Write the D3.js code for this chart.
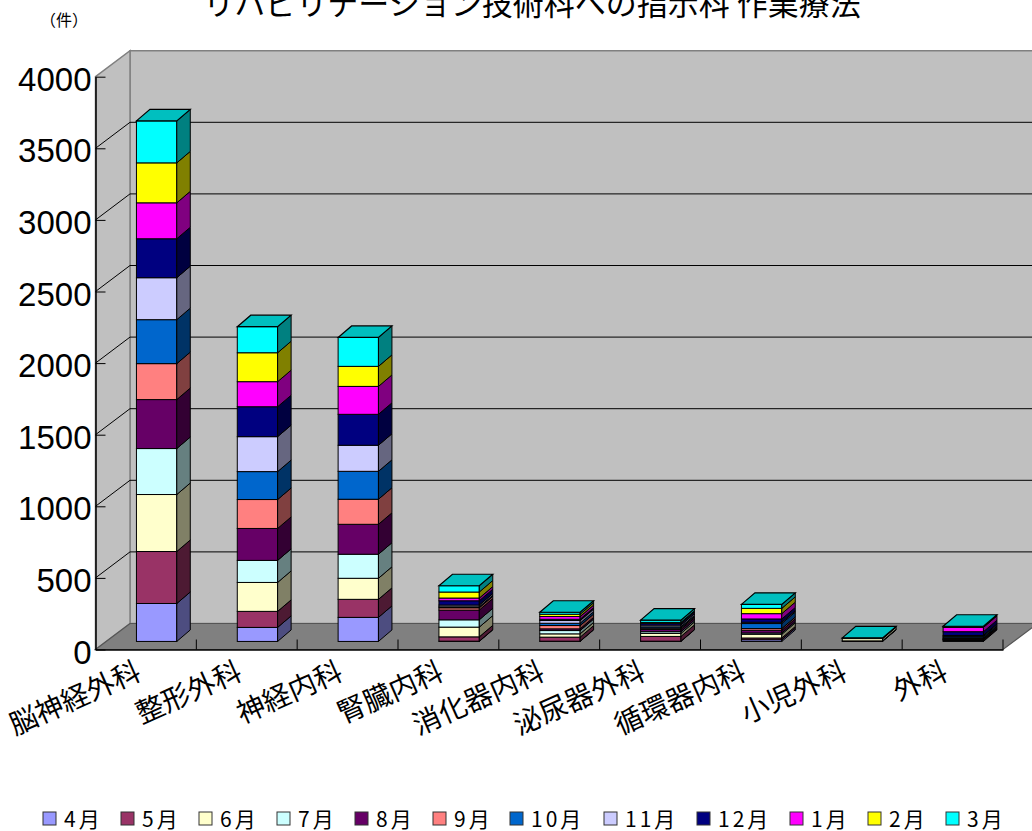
<!DOCTYPE html>
<html>
<head>
<meta charset="utf-8">
<script src="https://cdn.jsdelivr.net/npm/d3@7"></script>
<style>
  html, body { margin: 0; padding: 0; background: #fff; overflow: hidden; }
  svg { display: block; }
  .jp { font-family: "Noto Sans CJK JP", sans-serif; fill: #000; }
</style>
</head>
<body>
<div id="chart"></div>
<script>
const categories = ["脳神経外科", "整形外科", "神経内科", "腎臓内科", "消化器内科", "泌尿器外科", "循環器内科", "小児外科", "外科"];
const months = ["4月", "5月", "6月", "7月", "8月", "9月", "10月", "11月", "12月", "1月", "2月", "3月"];
const colors = ["#9999FF", "#993366", "#FFFFCC", "#CCFFFF", "#660066", "#FF8080", "#0066CC", "#CCCCFF", "#000080", "#FF00FF", "#FFFF00", "#00FFFF"];
const yTicks = [0, 500, 1000, 1500, 2000, 2500, 3000, 3500, 4000];

// values per department, one number for each month (Apr - Mar)
const neurosurgery = [265, 363, 398, 321, 342, 251, 307, 293, 272, 251, 279, 293];
const orthopedics = [98, 112, 202, 154, 223, 202, 195, 244, 209, 175, 202, 182];
const neurology = [168, 126, 147, 168, 209, 175, 195, 182, 216, 195, 140, 202];
const nephrology = [2, 30, 68, 51, 68, 16, 7, 12, 30, 19, 42, 44];
const digestive = [2, 28, 23, 23, 12, 23, 16, 19, 9, 19, 16, 14];
const urology = [2, 33, 21, 12, 16, 9, 9, 12, 12, 2, 5, 16];
const cardiology = [12, 12, 26, 9, 19, 12, 35, 9, 23, 37, 37, 28];
const pediatricSurgery = [2, 2, 16, 2, 0, 0, 0, 0, 0, 0, 0, 3];
const surgery = [5, 7, 2, 2, 5, 5, 9, 7, 26, 30, 4, 4];
const values = [neurosurgery, orthopedics, neurology, nephrology, digestive, urology, cardiology, pediatricSurgery, surgery];

const width = 1032, height = 831;
const plotLeft = 95.5, plotRight = 1003, plotBottom = 649.5, plotTop = 76.7;
const depthX = 34.5, depthY = 26;   // offset of back wall from the front plane
const barFront = 0.31;              // where the bars start in the depth
const sideDx = 13.5, sideDy = 11.5; // depth of a bar

const svg = d3.select("#chart").append("svg")
  .attr("width", width)
  .attr("height", height);

const x = d3.scaleBand().domain(categories).range([plotLeft, plotRight]);
const y = d3.scaleLinear().domain([0, 4000]).range([plotBottom, plotTop]);
const color = d3.scaleOrdinal().domain(months).range(colors);
const line = d3.line();

// walls and floor
svg.append("path")
  .attr("d", line([[plotLeft + depthX, plotTop - depthY], [width + 10, plotTop - depthY], [width + 10, plotBottom - depthY], [plotLeft + depthX, plotBottom - depthY]]) + "Z")
  .attr("fill", "#C0C0C0")
  .attr("stroke", "#808080")
  .attr("stroke-width", 1.5);

svg.append("path")
  .attr("d", line([[plotLeft, plotTop], [plotLeft + depthX, plotTop - depthY], [plotLeft + depthX, plotBottom - depthY], [plotLeft, plotBottom]]) + "Z")
  .attr("fill", "#C0C0C0")
  .attr("stroke", "#808080")
  .attr("stroke-width", 1.5);

svg.append("path")
  .attr("d", line([[plotLeft, plotBottom], [plotLeft + depthX, plotBottom - depthY], [plotRight + depthX, plotBottom - depthY], [plotRight, plotBottom]]) + "Z")
  .attr("fill", "#808080")
  .attr("stroke", "#555")
  .attr("stroke-width", 1.2);

// grid lines on the back wall and the side wall
const gridTicks = yTicks.filter(d => d > 0 && d < 4000);
svg.selectAll(".grid-back")
  .data(gridTicks)
  .join("line")
  .attr("class", "grid-back")
  .attr("x1", plotLeft + depthX)
  .attr("x2", width + 10)
  .attr("y1", d => y(d) - depthY)
  .attr("y2", d => y(d) - depthY)
  .attr("stroke", "#000")
  .attr("stroke-width", 1);

svg.selectAll(".grid-side")
  .data(gridTicks)
  .join("line")
  .attr("class", "grid-side")
  .attr("x1", plotLeft)
  .attr("x2", plotLeft + depthX)
  .attr("y1", d => y(d))
  .attr("y2", d => y(d) - depthY)
  .attr("stroke", "#000")
  .attr("stroke-width", 1);

// stacked bars
const stackData = categories.map((c, i) => {
  const row = { category: c };
  months.forEach((m, j) => { row[m] = values[i][j]; });
  return row;
});
const series = d3.stack().keys(months)(stackData);

const barWidth = x.bandwidth() / 2.5;
const frontDx = depthX * barFront, frontDy = depthY * barFront;

function barLeft(cat) {
  return x(cat) + x.bandwidth() / 2 - barWidth / 2 + frontDx;
}

categories.forEach((cat, i) => {
  const g = svg.append("g");
  const xl = barLeft(cat), xr = xl + barWidth;

  series.forEach(s => {
    const d = s[i];
    if (d[1] === d[0]) return;
    const y0 = y(d[0]) - frontDy, y1 = y(d[1]) - frontDy;
    const c = d3.color(color(s.key));

    g.append("rect")
      .attr("x", xl)
      .attr("y", y1)
      .attr("width", barWidth)
      .attr("height", y0 - y1)
      .attr("fill", color(s.key))
      .attr("stroke", "#000")
      .attr("stroke-width", 1);

    g.append("path")
      .attr("d", line([[xr, y0], [xr + sideDx, y0 - sideDy], [xr + sideDx, y1 - sideDy], [xr, y1]]) + "Z")
      .attr("fill", d3.rgb(c.r / 2, c.g / 2, c.b / 2))
      .attr("stroke", "#000")
      .attr("stroke-width", 1);
  });

  // top face takes the last month's colour
  const total = d3.sum(values[i]);
  const yt = y(total) - frontDy;
  const c = d3.color(colors[colors.length - 1]);
  g.append("path")
    .attr("d", line([[xl, yt], [xl + sideDx, yt - sideDy], [xr + sideDx, yt - sideDy], [xr, yt]]) + "Z")
    .attr("fill", d3.rgb(c.r * 0.75, c.g * 0.75, c.b * 0.75))
    .attr("stroke", "#000")
    .attr("stroke-width", 1.2);
});

// axes
const yAxis = d3.axisLeft(y)
  .tickValues(yTicks)
  .tickFormat(d3.format("d"))
  .tickSizeInner(-10)
  .tickSizeOuter(0)
  .tickPadding(3);

const yG = svg.append("g")
  .attr("transform", `translate(${plotLeft}, 0)`)
  .call(yAxis);
yG.selectAll("line").attr("stroke", "#000").attr("stroke-width", 1);
yG.select(".domain").attr("stroke", "#000").attr("stroke-width", 1.5);
yG.selectAll("text")
  .attr("font-family", "'Liberation Sans', Arial, sans-serif")
  .attr("font-size", 33)
  .attr("x", -4)
  .attr("dy", "0.41em")
  .attr("fill", "#000");

const xAxis = d3.axisBottom(x).tickSize(0).tickPadding(0);
const xG = svg.append("g")
  .attr("transform", `translate(0, ${plotBottom})`)
  .call(xAxis);
xG.select(".domain").attr("stroke", "#000").attr("stroke-width", 1.5);
xG.selectAll("text")
  .attr("class", "jp")
  .attr("font-size", 28)
  .attr("font-family", "'Noto Sans CJK JP', sans-serif")
  .attr("text-anchor", "end")
  .attr("dy", null)
  .attr("y", 0)
  .attr("transform", "translate(-3, 29) rotate(-24)");

// category ticks sit between the bands
svg.selectAll(".edge-tick")
  .data(categories)
  .join("line")
  .attr("class", "edge-tick")
  .attr("x1", d => x(d) + x.bandwidth())
  .attr("x2", d => x(d) + x.bandwidth())
  .attr("y1", plotBottom - 10)
  .attr("y2", plotBottom)
  .attr("stroke", "#000")
  .attr("stroke-width", 1);

// titles
svg.append("text")
  .attr("class", "jp")
  .attr("x", 532)
  .attr("y", 15)
  .attr("text-anchor", "middle")
  .attr("font-size", 31)
  .text("リハビリテーション技術科への指示科 作業療法");

svg.append("text")
  .attr("class", "jp")
  .attr("x", 64)
  .attr("y", 26)
  .attr("text-anchor", "middle")
  .attr("font-size", 16)
  .text("（件）");

// legend
const legendX = [43, 121, 199, 277, 355, 433, 510, 604, 697, 790, 868, 946];
const legend = svg.selectAll(".legend-item")
  .data(months)
  .join("g")
  .attr("class", "legend-item")
  .attr("transform", (d, i) => `translate(${legendX[i]}, 812)`);

legend.append("rect")
  .attr("width", 13)
  .attr("height", 13)
  .attr("fill", d => color(d))
  .attr("stroke", "#333")
  .attr("stroke-width", 1);

legend.append("text")
  .attr("class", "jp")
  .attr("x", 21)
  .attr("y", 14.5)
  .attr("font-size", 21)
  .attr("letter-spacing", 3)
  .text(d => d);
</script>
</body>
</html>
